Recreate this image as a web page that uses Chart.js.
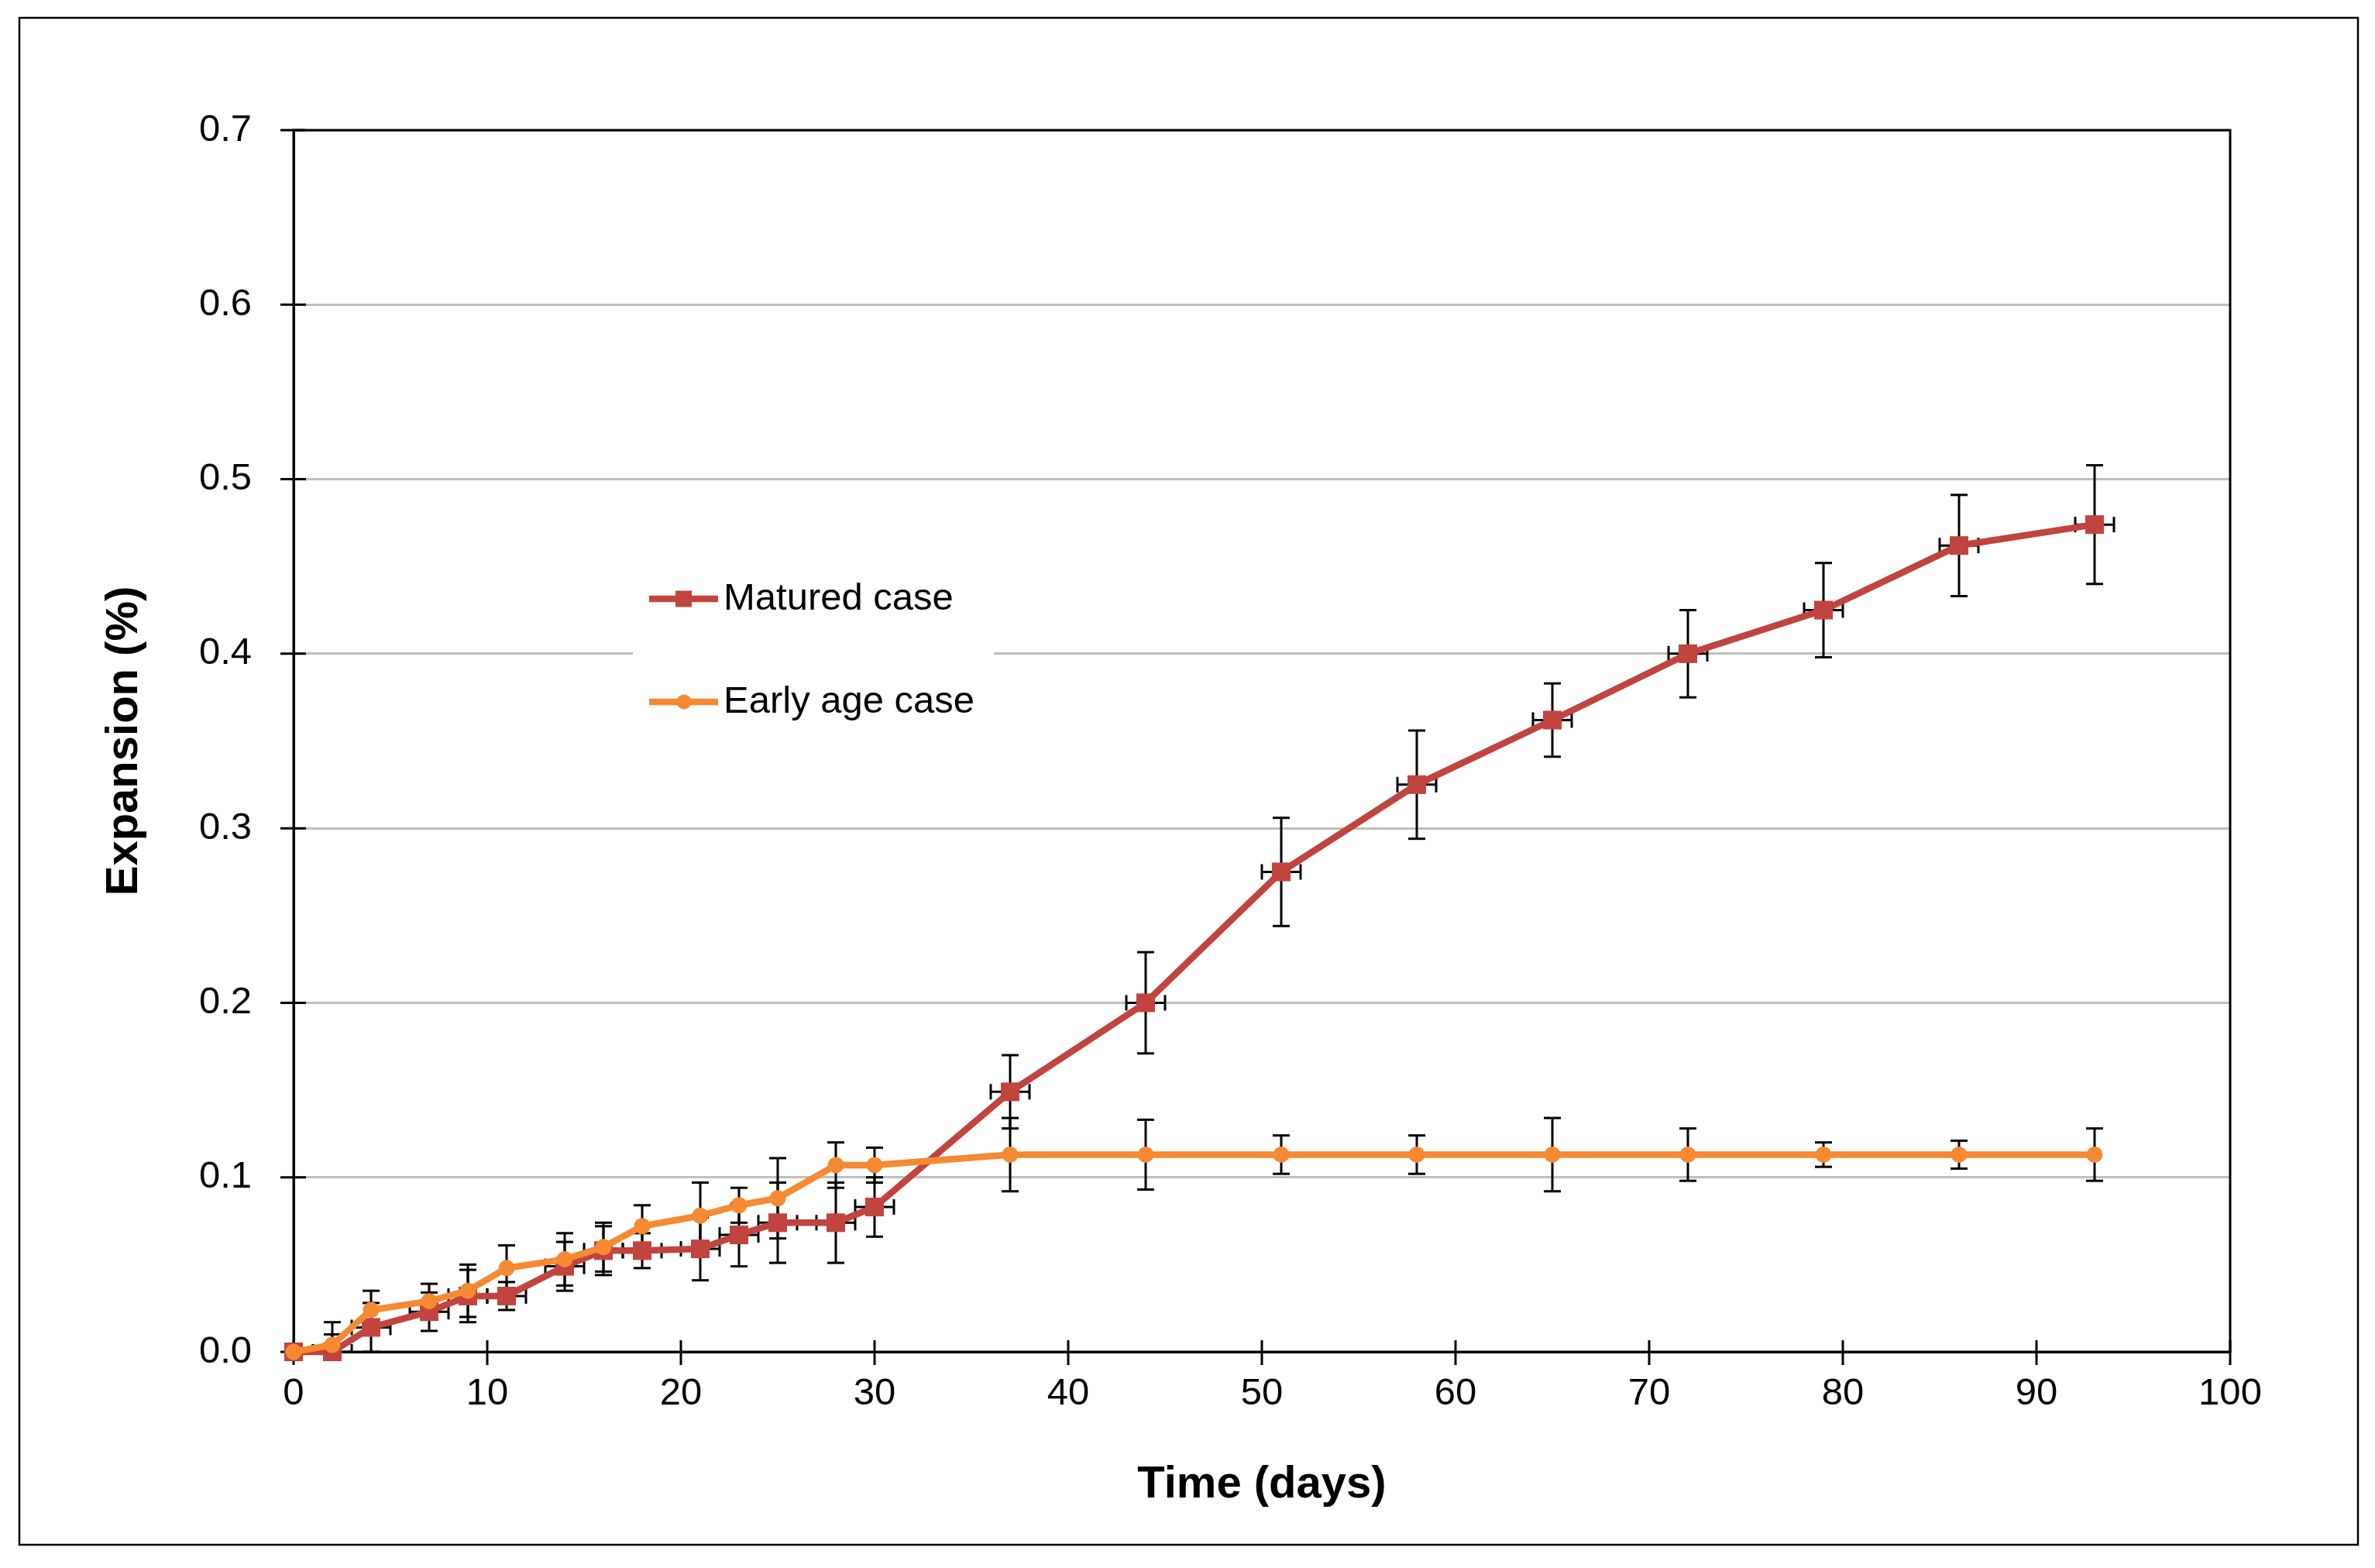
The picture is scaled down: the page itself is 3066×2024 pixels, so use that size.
<!DOCTYPE html>
<html>
<head>
<meta charset="utf-8">
<script src="https://cdn.jsdelivr.net/npm/chart.js@4.4.0/dist/chart.umd.min.js"></script>
<style>
html, body { margin: 0; padding: 0; background: #fff; }
canvas { display: block; }
</style>
</head>
<body>
<canvas id="chart" width="3066" height="2024"></canvas>
<script>
"use strict";

var days = [0, 2, 4, 7, 9, 11, 14, 16, 18, 21, 23, 25, 28, 30, 37, 44, 51, 58, 65, 72, 79, 86, 93];
var matured = [0, 0, 0.014, 0.023, 0.032, 0.032, 0.049, 0.058, 0.058, 0.059, 0.067, 0.074, 0.074, 0.083,
    0.149, 0.200, 0.275, 0.325, 0.362, 0.400, 0.425, 0.462, 0.474];
var maturedErr = [0, 0.01, 0.014, 0.011, 0.015, 0.008, 0.014, 0.014, 0.010, 0.018, 0.018, 0.023, 0.023, 0.017,
    0.021, 0.029, 0.031, 0.031, 0.021, 0.025, 0.027, 0.029, 0.034];
var maturedDayErr = 1;
var early = [0, 0.004, 0.024, 0.029, 0.035, 0.048, 0.053, 0.060, 0.072, 0.078, 0.084, 0.088, 0.107, 0.107,
    0.113, 0.113, 0.113, 0.113, 0.113, 0.113, 0.113, 0.113, 0.113];
var earlyErr = [0, 0.013, 0.011, 0.010, 0.015, 0.013, 0.015, 0.014, 0.012, 0.019, 0.010, 0.023, 0.013, 0.010,
    0.021, 0.020, 0.011, 0.011, 0.021, 0.015, 0.007, 0.008, 0.015];
var yTicks = [0, 0.1, 0.2, 0.3, 0.4, 0.5, 0.6, 0.7];
var xTicks = [0, 10, 20, 30, 40, 50, 60, 70, 80, 90, 100];

var RED = '#C1443F';
var ORANGE = '#F58A32';
var FONT = "'Liberation Sans', Arial, sans-serif";

function points(ys) {
    return days.map(function (d, i) { return { x: d, y: ys[i] }; });
}

function seg(ctx, x1, y1, x2, y2) {
    ctx.beginPath();
    ctx.moveTo(x1, y1);
    ctx.lineTo(x2, y2);
    ctx.stroke();
}

// error bars under the lines and markers
var errorBars = {
    id: 'errorBars',
    beforeDatasetsDraw: function (chart) {
        var ctx = chart.ctx, xs = chart.scales.x, ys = chart.scales.y, a = chart.chartArea;
        ctx.save();
        ctx.beginPath();
        ctx.rect(a.left, a.top, a.right - a.left, a.bottom - a.top);
        ctx.clip();
        ctx.strokeStyle = '#000';
        ctx.lineWidth = 3;
        chart.data.datasets.forEach(function (ds) {
            ds.data.forEach(function (p, i) {
                var px = xs.getPixelForValue(p.x), py = ys.getPixelForValue(p.y);
                var e = ds.yErr[i];
                if (e > 0) {
                    var t = ys.getPixelForValue(p.y + e), b = ys.getPixelForValue(p.y - e);
                    seg(ctx, px, t, px, b);
                    seg(ctx, px - 11, t, px + 11, t);
                    seg(ctx, px - 11, b, px + 11, b);
                }
                if (ds.xErr) {
                    var l = xs.getPixelForValue(p.x - ds.xErr), r = xs.getPixelForValue(p.x + ds.xErr);
                    seg(ctx, l, py, r, py);
                    seg(ctx, l, py - 10, l, py + 10);
                    seg(ctx, r, py - 10, r, py + 10);
                }
            });
        });
        ctx.restore();
    }
};

// frame, plot border, crossing tick marks, legend
var decor = {
    id: 'decor',
    beforeDraw: function (chart) {
        var ctx = chart.ctx;
        ctx.save();
        ctx.fillStyle = '#fff';
        ctx.fillRect(0, 0, chart.width, chart.height);
        ctx.restore();
    },
    beforeDatasetsDraw: function (chart) {
        var ctx = chart.ctx, xs = chart.scales.x, ys = chart.scales.y, a = chart.chartArea;
        ctx.save();
        ctx.strokeStyle = '#000';
        ctx.lineWidth = 3;
        ctx.strokeRect(a.left, a.top, a.right - a.left, a.bottom - a.top);
        xTicks.forEach(function (v) {
            var px = xs.getPixelForValue(v);
            seg(ctx, px, a.bottom - 15, px, a.bottom + 17);
        });
        yTicks.forEach(function (v) {
            var py = ys.getPixelForValue(v);
            seg(ctx, a.left - 17, py, a.left + 16, py);
        });
        ctx.restore();
    },
    afterDraw: function (chart) {
        var ctx = chart.ctx;
        ctx.save();
        ctx.strokeStyle = '#000';
        ctx.lineWidth = 2.5;
        ctx.strokeRect(25, 23, 3019, 1971);

        // legend
        ctx.fillStyle = '#fff';
        ctx.fillRect(817, 715, 466, 240);
        var items = [
            { label: 'Matured case', color: RED, y: 773, square: true },
            { label: 'Early age case', color: ORANGE, y: 906, square: false }
        ];
        items.forEach(function (it) {
            ctx.strokeStyle = it.color;
            ctx.lineWidth = 8.5;
            seg(ctx, 838, it.y, 927, it.y);
            ctx.fillStyle = it.color;
            if (it.square) {
                ctx.fillRect(872, it.y - 10.5, 21, 21);
            } else {
                ctx.beginPath();
                ctx.arc(883, it.y, 9.5, 0, Math.PI * 2);
                ctx.fill();
            }
            ctx.fillStyle = '#000';
            ctx.font = '49px ' + FONT;
            ctx.textBaseline = 'middle';
            ctx.textAlign = 'left';
            ctx.fillText(it.label, 934, it.y);
        });
        ctx.restore();
    }
};

var ctx = document.getElementById('chart').getContext('2d');
var myChart = new Chart(ctx, {
    type: 'line',
    data: {
        datasets: [{
            label: 'Matured case',
            data: points(matured),
            yErr: maturedErr,
            xErr: maturedDayErr,
            borderColor: RED,
            backgroundColor: RED,
            borderWidth: 8.5,
            pointStyle: 'rect',
            pointRadius: 17,
            pointBorderWidth: 0,
            clip: false,
            order: 2
        }, {
            label: 'Early age case',
            data: points(early),
            yErr: earlyErr,
            borderColor: ORANGE,
            backgroundColor: ORANGE,
            borderWidth: 8.5,
            pointStyle: 'circle',
            pointRadius: 10.5,
            pointBorderWidth: 0,
            clip: false,
            order: 1
        }]
    },
    options: {
        responsive: false,
        animation: false,
        devicePixelRatio: 1,
        layout: {
            padding: { left: 0, top: 168, right: 187, bottom: 0 }
        },
        plugins: {
            legend: { display: false },
            tooltip: { enabled: false }
        },
        scales: {
            x: {
                type: 'linear',
                min: 0,
                max: 100,
                afterFit: function (s) { s.height = 279; },
                afterBuildTicks: function (s) {
                    s.ticks = xTicks.map(function (v) { return { value: v }; });
                },
                grid: { display: false, drawTicks: false },
                border: { display: true, color: '#000', width: 3 },
                ticks: {
                    padding: 25,
                    color: '#000',
                    font: { family: FONT, size: 49 },
                    maxRotation: 0
                },
                title: {
                    display: true,
                    text: 'Time (days)',
                    color: '#000',
                    font: { family: FONT, size: 58, weight: 'bold' },
                    padding: { top: 0, bottom: 72 }
                }
            },
            y: {
                min: 0,
                max: 0.7,
                afterFit: function (s) { s.width = 379; },
                afterBuildTicks: function (s) {
                    s.ticks = yTicks.map(function (v) { return { value: v }; });
                },
                grid: { color: '#BFBFBF', lineWidth: 3, drawTicks: false },
                border: { display: true, color: '#000', width: 3 },
                ticks: {
                    padding: 54,
                    color: '#000',
                    font: { family: FONT, size: 49 },
                    callback: function (v) { return v.toFixed(1); }
                },
                title: {
                    display: true,
                    text: 'Expansion (%)',
                    color: '#000',
                    font: { family: FONT, size: 58, weight: 'bold' },
                    padding: { top: 126, bottom: 0 }
                }
            }
        }
    },
    plugins: [errorBars, decor]
});
</script>
</body>
</html>
